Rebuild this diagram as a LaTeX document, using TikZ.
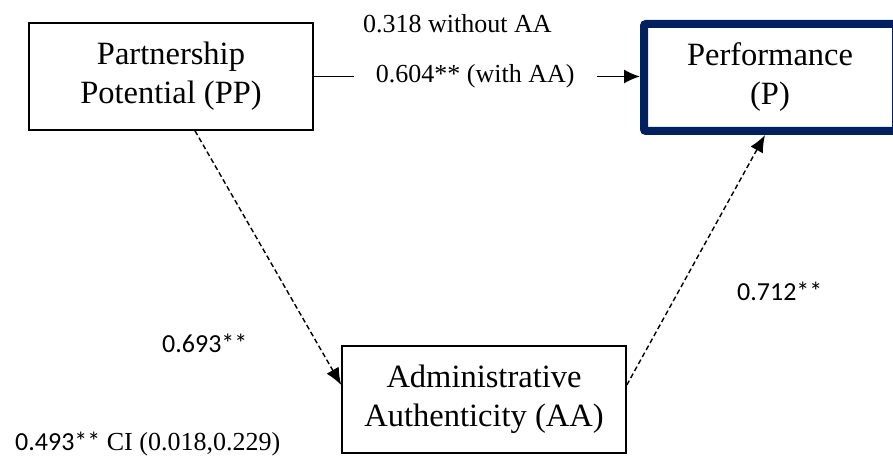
\documentclass[tikz,border=0pt]{standalone}
\usepackage{fontspec}
\setmainfont{Liberation Serif}
\newfontfamily\calib{Carlito}
\usetikzlibrary{arrows.meta,calc}
\definecolor{navy}{RGB}{0,32,96}
\begin{document}
\begin{tikzpicture}[x=1pt,y=-1pt,
  boxtext/.style={font=\fontsize{32.5}{39}\selectfont, align=center, inner sep=0pt},
  thinbox/.style={boxtext, draw=black, line width=1.6pt, minimum width=284pt, minimum height=107pt},
  thickbox/.style={boxtext, draw=navy, line width=8pt, rounded corners=2pt, minimum width=252pt, minimum height=107pt},
  lbl/.style={font=\fontsize{26}{30}\selectfont, inner sep=0pt, anchor=base west},
  sanslbl/.style={lbl, font=\calib\fontsize{26}{30}\selectfont},
  solidarrow/.style={line width=1.5pt, -{Latex[length=16pt,width=14pt]}},
  dasharrow/.style={line width=1.4pt, dash pattern=on 5pt off 3pt, -{Latex[length=17pt,width=14pt]}}
]
\useasboundingbox (0,0) rectangle (893,457);
\fill[white] (0,0) rectangle (893,457);

\node[thinbox] (PP) at (171,76.5) {Partnership\\Potential (PP)};
\node[thinbox] (AA) at (484,399.5) {Administrative\\Authenticity (AA)};
\node[thickbox] (P) at (770,77.5) {Performance\\(P)};

\draw[solidarrow] (PP.east) -- (PP.east -| P.west)
  node[pos=0.495, fill=white, inner xsep=22pt, inner ysep=2pt, font=\fontsize{26}{30}\selectfont] (L1) {0.604** (with AA)};

\node[lbl] (L2) at (363,33) {0.318 without AA};

\draw[dasharrow] ($(PP.south)+(24,0)$) coordinate (s1) -- ($(AA.west)+(0,-14.5)$) coordinate (e1);
\draw[dasharrow] ($(AA.east)+(0,-14.5)$) coordinate (s2) -- ($(P.south)+(-5,0)$) coordinate (e2);

\node[sanslbl] (L3) at (162,352) {0.693**};
\node[sanslbl] (L4) at (737,300) {0.712**};
\node[lbl] (L5) at (15,450) {{\calib 0.493**} CI (0.018,0.229)};
\end{tikzpicture}
\end{document}
